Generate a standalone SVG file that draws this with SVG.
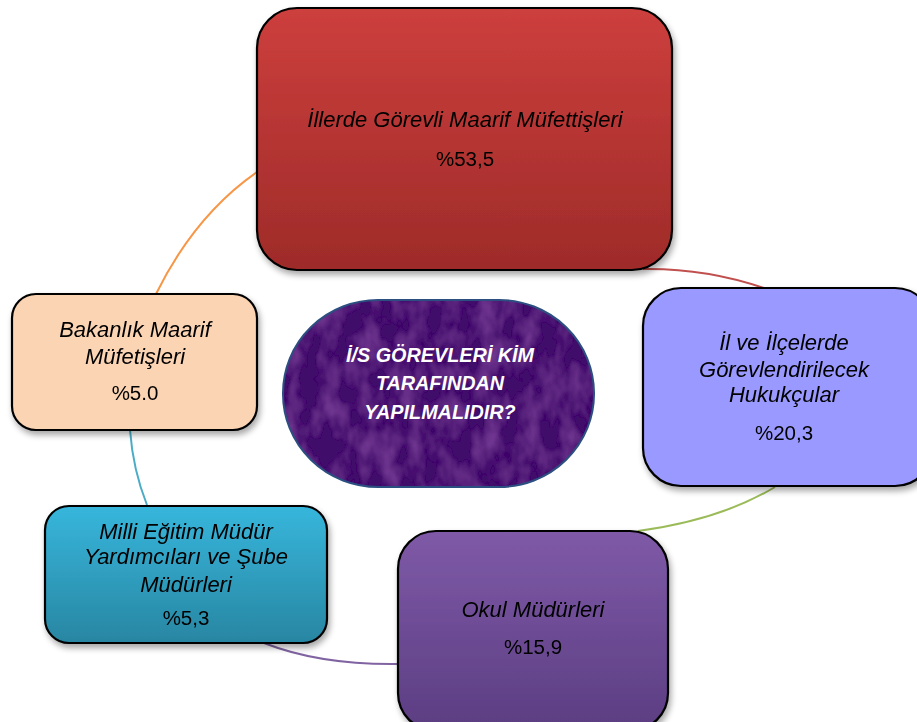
<svg xmlns="http://www.w3.org/2000/svg" width="917" height="722" viewBox="0 0 917 722">
<defs>
<linearGradient id="gRed" x1="0" y1="0" x2="0" y2="1"><stop offset="0" stop-color="#CD3F3D"/><stop offset="1" stop-color="#9E2B29"/></linearGradient>
<linearGradient id="gTeal" x1="0" y1="0" x2="0" y2="1"><stop offset="0" stop-color="#37B6DC"/><stop offset="1" stop-color="#2886A2"/></linearGradient>
<linearGradient id="gPurp" x1="0" y1="0" x2="0" y2="1"><stop offset="0" stop-color="#7F5AA7"/><stop offset="1" stop-color="#5B3D82"/></linearGradient>
<filter id="sh" x="-10%" y="-10%" width="125%" height="130%">
<feGaussianBlur in="SourceAlpha" stdDeviation="3"/>
<feOffset dx="2" dy="4" result="b"/>
<feComponentTransfer><feFuncA type="linear" slope="0.35"/></feComponentTransfer>
<feMerge><feMergeNode/><feMergeNode in="SourceGraphic"/></feMerge>
</filter>
<filter id="tex" x="0" y="0" width="100%" height="100%">
<feTurbulence type="fractalNoise" baseFrequency="0.05 0.03" numOctaves="3" seed="4" result="n"/>
<feColorMatrix in="n" type="matrix" values="0 0 0 0 0.36  0 0 0 0 0.10  0 0 0 0 0.52  0 0 0 0.8 -0.3" result="c"/>
<feComposite in="c" in2="SourceGraphic" operator="in" result="t"/>
<feMerge><feMergeNode in="SourceGraphic"/><feMergeNode in="t"/></feMerge>
</filter>
</defs>
<style>
.box{stroke:#000;stroke-width:2.2}
.t{font-family:"Liberation Sans",Arial,sans-serif;font-size:22px;font-style:italic;fill:#000;text-anchor:middle}
.p{font-family:"Liberation Sans",Arial,sans-serif;font-size:20.5px;fill:#000;text-anchor:middle}
.c{font-family:"Liberation Sans",Arial,sans-serif;font-size:19.8px;font-style:italic;font-weight:bold;fill:#fff;text-anchor:middle}
.arc{fill:none;stroke-width:2}
</style>
<g id="connectors">
<path class="arc" stroke="#F79646" d="M156,294 Q195,215 257,172"/>
<path class="arc" stroke="#C0504D" d="M643,269 Q705,268 764,288"/>
<path class="arc" stroke="#9BBB59" d="M775,487 Q720,520 638,531"/>
<path class="arc" stroke="#8064A2" d="M264,643 Q320,665 398,664"/>
<path class="arc" stroke="#4BACC6" d="M130,430 Q133,470 147,505"/>
</g>
<g id="center">
<rect x="283" y="300" width="311" height="187" rx="95" ry="93" fill="#40106A" filter="url(#tex)"/>
<rect x="283" y="300" width="311" height="187" rx="95" ry="93" fill="none" stroke="#2B4F80" stroke-width="2"/>
<text class="c" x="440" y="362">İ/S GÖREVLERİ KİM</text>
<text class="c" x="440" y="390">TARAFINDAN</text>
<text class="c" x="440" y="419">YAPILMALIDIR?</text>
</g>
<g id="node-red" filter="url(#sh)">
<rect class="box" x="257" y="8" width="415" height="262" rx="40" fill="url(#gRed)"/>
<text class="t" x="465" y="127">İllerde Görevli Maarif Müfettişleri</text>
<text class="p" x="465" y="166">%53,5</text>
</g>
<g id="node-blue" filter="url(#sh)">
<rect class="box" x="643" y="288" width="290" height="198" rx="38" fill="#9999FF"/>
<text class="t" x="784" y="350">İl ve İlçelerde</text>
<text class="t" x="784" y="377">Görevlendirilecek</text>
<text class="t" x="784" y="402">Hukukçular</text>
<text class="p" x="784" y="440">%20,3</text>
</g>
<g id="node-purple" filter="url(#sh)">
<rect class="box" x="398" y="531" width="270" height="200" rx="38" fill="url(#gPurp)"/>
<text class="t" x="533" y="617">Okul Müdürleri</text>
<text class="p" x="533" y="654">%15,9</text>
</g>
<g id="node-teal" filter="url(#sh)">
<rect class="box" x="45" y="506" width="282" height="137" rx="24" fill="url(#gTeal)"/>
<text class="t" x="186" y="539">Milli Eğitim Müdür</text>
<text class="t" x="186" y="564">Yardımcıları ve Şube</text>
<text class="t" x="186" y="592">Müdürleri</text>
<text class="p" x="186" y="625">%5,3</text>
</g>
<g id="node-peach" filter="url(#sh)">
<rect class="box" x="12" y="294" width="245" height="136" rx="24" fill="#FBD4B4"/>
<text class="t" x="135" y="337">Bakanlık Maarif</text>
<text class="t" x="135" y="364">Müfetişleri</text>
<text class="p" x="135" y="400">%5.0</text>
</g>
</svg>
